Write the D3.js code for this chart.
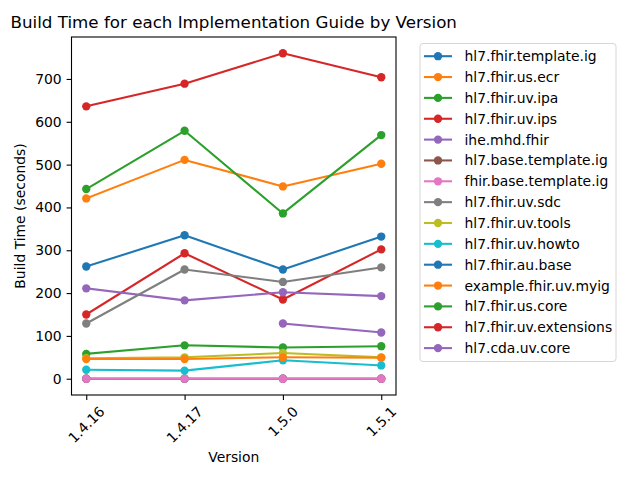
<!DOCTYPE html>
<html>
<head>
<meta charset="utf-8">
<script src="https://cdn.jsdelivr.net/npm/d3@7"></script>
<style>
	body { margin: 0; background: #fff; }
	svg text { font-family: "DejaVu Sans", sans-serif; fill: #000; }
</style>
</head>
<body>
<div id="chart"></div>
<script>
const versions = ['1.4.16', '1.4.17', '1.5.0', '1.5.1'];

const guides = [
	'hl7.fhir.template.ig',
	'hl7.fhir.us.ecr',
	'hl7.fhir.uv.ipa',
	'hl7.fhir.uv.ips',
	'ihe.mhd.fhir',
	'hl7.base.template.ig',
	'fhir.base.template.ig',
	'hl7.fhir.uv.sdc',
	'hl7.fhir.uv.tools',
	'hl7.fhir.uv.howto',
	'hl7.fhir.au.base',
	'example.fhir.uv.myig',
	'hl7.fhir.us.core',
	'hl7.fhir.uv.extensions',
	'hl7.cda.uv.core'
];

// seconds, one row per guide, one column per version (null = not built)
const buildTimes = [
	[0, 0, 0, 0],
	[421, 511, 449, 502],
	[58, 78, 73, 76],
	[150, 293, 185, 302],
	[211, 183, 202, 193],
	[0, 0, 0, 0],
	[0, 0, 0, 0],
	[129, 255, 226, 260],
	[48, 50, 60, 50],
	[21, 19, 43, 31],
	[262, 335, 255, 332],
	[46, 46, 50, 49],
	[443, 579, 386, 569],
	[636, 689, 760, 704],
	[null, null, 129, 108]
];

const yTicks = [0, 100, 200, 300, 400, 500, 600, 700];

const tab10 = d3.schemeCategory10;

const width = 640, height = 480;
const plot = {left: 71.5, right: 396, top: 37, bottom: 395};

const svg = d3.select('#chart').append('svg')
	.attr('width', width)
	.attr('height', height);

// matplotlib style 5% margins on both axes
const xPad = (versions.length - 1) * 0.05;
const x = d3.scaleLinear()
	.domain([-xPad, versions.length - 1 + xPad])
	.range([plot.left, plot.right]);

const allVals = buildTimes.flat().filter(v => v != null);
const yMin = d3.min(allVals), yMax = d3.max(allVals);
const yPad = (yMax - yMin) * 0.05;
const y = d3.scaleLinear()
	.domain([yMin - yPad, yMax + yPad])
	.range([plot.bottom, plot.top]);

// Lines + markers, drawn series by series so later ones sit on top
const line = d3.line()
	.defined(d => d != null)
	.x((d, i) => x(i))
	.y(d => y(d));

const series = svg.append('g').attr('class', 'series');

buildTimes.forEach((vals, s) => {
	const color = tab10[s % 10];
	const g = series.append('g');
	g.append('path')
		.attr('d', line(vals))
		.attr('fill', 'none')
		.attr('stroke', color)
		.attr('stroke-width', 2.08)
		.attr('stroke-linejoin', 'round')
		.attr('stroke-linecap', 'square');
	g.selectAll('circle')
		.data(vals.map((v, i) => ({v, i})).filter(d => d.v != null))
		.enter()
		.append('circle')
			.attr('cx', d => x(d.i))
			.attr('cy', d => y(d.v))
			.attr('r', 4.17)
			.attr('fill', color);
});

// Axes frame
svg.append('rect')
	.attr('x', plot.left)
	.attr('y', plot.top)
	.attr('width', plot.right - plot.left)
	.attr('height', plot.bottom - plot.top)
	.attr('fill', 'none')
	.attr('stroke', '#000')
	.attr('stroke-width', 1.1);

// Y axis
const yAxis = svg.append('g')
	.attr('transform', `translate(${plot.left},0)`)
	.call(d3.axisLeft(y).tickValues(yTicks).tickSize(4.9).tickPadding(4.9));
yAxis.select('.domain').remove();
yAxis.selectAll('line').attr('stroke-width', 1.1);
yAxis.selectAll('text')
	.attr('font-size', 13.9)
	.attr('font-family', '"DejaVu Sans", sans-serif')
	.attr('fill', '#000');

// X axis with rotated labels
const xAxis = svg.append('g')
	.attr('transform', `translate(0,${plot.bottom})`)
	.call(d3.axisBottom(x).tickValues(d3.range(versions.length)).tickSize(4.9).tickFormat(''));
xAxis.select('.domain').remove();
xAxis.selectAll('line').attr('stroke-width', 1.1);

const xLabels = svg.append('g');
versions.forEach((v, i) => {
	const t = xLabels.append('text')
		.attr('font-size', 13.9)
		.attr('text-anchor', 'middle')
		.attr('dominant-baseline', 'central')
		.text(v);
	const w = t.node().getComputedTextLength();
	const h = 16;
	const rotH = (w + h) * Math.SQRT1_2;
	const cx = x(i), cy = plot.bottom + 8.3 + rotH / 2;
	t.attr('x', cx).attr('y', cy)
		.attr('transform', `rotate(-45,${cx},${cy})`);
});

// Titles
svg.append('text')
	.attr('x', (plot.left + plot.right) / 2)
	.attr('y', 28)
	.attr('text-anchor', 'middle')
	.attr('font-size', 16.7)
	.text('Build Time for each Implementation Guide by Version');

svg.append('text')
	.attr('x', (plot.left + plot.right) / 2)
	.attr('y', 462)
	.attr('text-anchor', 'middle')
	.attr('font-size', 13.9)
	.text('Version');

svg.append('text')
	.attr('transform', `translate(25,${(plot.top + plot.bottom) / 2}) rotate(-90)`)
	.attr('text-anchor', 'middle')
	.attr('font-size', 13.9)
	.text('Build Time (seconds)');

// Legend
const legend = svg.append('g').attr('transform', 'translate(420,43.5)');
legend.append('rect')
	.attr('width', 196)
	.attr('height', 318)
	.attr('rx', 3)
	.attr('fill', '#fff')
	.attr('stroke', '#d6d6d6')
	.attr('stroke-width', 1);

const rowStep = 20.85;
guides.forEach((name, s) => {
	const color = tab10[s % 10];
	const ry = 12.7 + s * rowStep;
	const row = legend.append('g').attr('transform', `translate(0,${ry})`);
	row.append('line')
		.attr('x1', 4).attr('x2', 32)
		.attr('stroke', color)
		.attr('stroke-width', 2.08);
	row.append('circle')
		.attr('cx', 18)
		.attr('r', 4.17)
		.attr('fill', color);
	row.append('text')
		.attr('x', 44.5)
		.attr('dy', '0.36em')
		.attr('font-size', 13.9)
		.text(name);
});
</script>
</body>
</html>
